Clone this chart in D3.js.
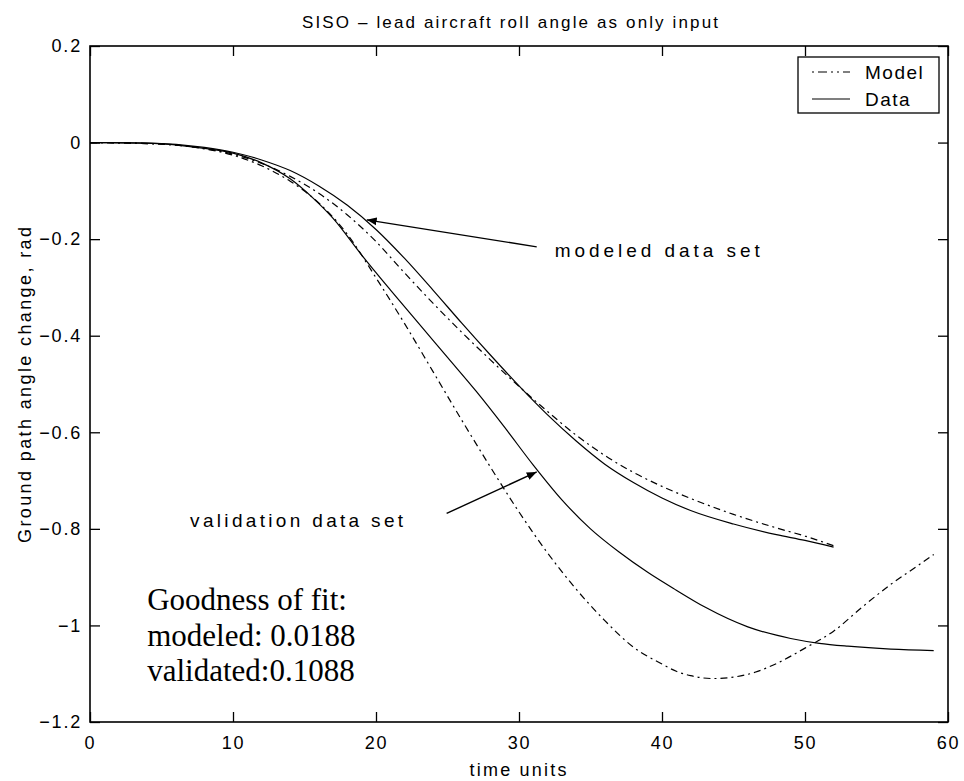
<!DOCTYPE html>
<html>
<head>
<meta charset="utf-8">
<script src="https://cdn.jsdelivr.net/npm/d3@7"></script>
<style>
  body { margin: 0; background: #fff; }
  svg { display: block; }
  .sans { font-family: "Liberation Sans", Arial, Helvetica, sans-serif; }
  .serif { font-family: "Liberation Serif", "Times New Roman", serif; }
</style>
</head>
<body>
<svg id="chart" width="964" height="781"></svg>
<script>
// modeled data set (upper pair)
const tModData  = [0, 4, 8, 10, 12, 14, 16, 18, 20, 22, 24, 26, 28, 30, 32, 34, 36, 38, 40, 42, 45, 48, 50, 52];
const vModData  = [0, -0.001, -0.01, -0.02, -0.036, -0.058, -0.09, -0.13, -0.18, -0.24, -0.306, -0.374, -0.44, -0.504, -0.564, -0.618, -0.666, -0.704, -0.736, -0.762, -0.79, -0.812, -0.824, -0.838];
const tModModel = [0, 4, 8, 10, 12, 14, 16, 18, 20, 22, 24, 26, 28, 30, 32, 34, 36, 38, 40, 42, 45, 48, 50, 52];
const vModModel = [0, -0.002, -0.012, -0.024, -0.043, -0.07, -0.105, -0.15, -0.205, -0.27, -0.333, -0.393, -0.45, -0.505, -0.557, -0.606, -0.648, -0.683, -0.712, -0.737, -0.77, -0.798, -0.815, -0.835];

// validation data set (lower pair)
const tValData  = [0, 4, 8, 10, 12, 14, 15.6, 17, 19, 21, 23, 25, 27, 29, 31, 33, 35, 37, 39, 41, 43, 46, 49, 51, 53, 56, 59];
const vValData  = [0, -0.001, -0.012, -0.022, -0.042, -0.075, -0.115, -0.157, -0.233, -0.305, -0.375, -0.445, -0.515, -0.59, -0.668, -0.74, -0.80, -0.848, -0.89, -0.927, -0.962, -1.003, -1.027, -1.037, -1.043, -1.049, -1.052];
const tValModel = [0, 4, 8, 10, 12, 14, 16, 18, 20, 22, 24, 26, 28, 30, 32, 34, 36, 38, 40, 41, 42, 43.5, 45, 46.5, 48, 50, 52, 54, 56, 58, 59];
const vValModel = [0, -0.002, -0.013, -0.026, -0.048, -0.08, -0.125, -0.19, -0.28, -0.375, -0.475, -0.575, -0.672, -0.765, -0.85, -0.925, -0.99, -1.045, -1.08, -1.095, -1.104, -1.11, -1.107, -1.097, -1.079, -1.047, -1.012, -0.962, -0.915, -0.874, -0.853];

const xTicks = [0, 10, 20, 30, 40, 50, 60];
const yTicks = [0.2, 0, -0.2, -0.4, -0.6, -0.8, -1, -1.2];

const titleText = "SISO \u2013 lead aircraft roll angle as only input";
const xLabel = "time units";
const yLabel = "Ground path angle change, rad";
const legendNames = ["Model", "Data"];
const fitLines = ["Goodness of fit:", "modeled: 0.0188", "validated:0.1088"];

// annotations in data units: [tail t, tail v, tip t, tip v]
const arrowModeled = [31.24, -0.216, 19.35, -0.16];
const arrowValid = [24.94, -0.768, 31.24, -0.682];

const svg = d3.select("#chart");
const plotL = 90, plotR = 948, plotT = 46, plotB = 722;

const x = d3.scaleLinear().domain([0, 60]).range([plotL, plotR]);
const y = d3.scaleLinear().domain([-1.2, 0.2]).range([plotB, plotT]);

const minus = s => s.replace("-", "\u2212");
const fmt = d => minus(d3.format("")(d));

// axes, ticks inside like matlab
function styleAxis(g) {
  g.select(".domain").remove();
  g.selectAll(".tick line").attr("stroke", "#000").attr("stroke-width", 1.3);
  g.selectAll(".tick text").attr("class", "sans").attr("font-size", 18)
    .attr("letter-spacing", 1.8).attr("fill", "#000");
}

svg.append("g").attr("transform", `translate(${plotL},0)`)
  .call(d3.axisLeft(y).tickValues(yTicks).tickSize(-10).tickPadding(8).tickFormat(fmt))
  .call(styleAxis);
svg.append("g").attr("transform", `translate(${plotR},0)`)
  .call(d3.axisRight(y).tickValues(yTicks).tickSize(-10).tickFormat(""))
  .call(styleAxis);
svg.append("g").attr("transform", `translate(0,${plotB})`)
  .call(d3.axisBottom(x).tickValues(xTicks).tickSize(-10).tickPadding(14).tickFormat(fmt))
  .call(styleAxis);
svg.append("g").attr("transform", `translate(0,${plotT})`)
  .call(d3.axisTop(x).tickValues(xTicks).tickSize(-10).tickFormat(""))
  .call(styleAxis);

svg.append("rect")
  .attr("x", plotL).attr("y", plotT)
  .attr("width", plotR - plotL).attr("height", plotB - plotT)
  .attr("fill", "none").attr("stroke", "#000").attr("stroke-width", 1.6);

// curves
const line = d3.line()
  .x(d => x(d[0])).y(d => y(d[1]))
  .curve(d3.curveMonotoneX);

const series = [
  { t: tModData, v: vModData, dash: null },
  { t: tModModel, v: vModModel, dash: "7,4,2,4" },
  { t: tValData, v: vValData, dash: null },
  { t: tValModel, v: vValModel, dash: "7,4,2,4" }
];

svg.append("g").selectAll("path")
  .data(series)
  .enter().append("path")
    .attr("d", s => line(s.t.map((t, i) => [t, s.v[i]])))
    .attr("fill", "none")
    .attr("stroke", "#000")
    .attr("stroke-width", 1.2)
    .attr("stroke-dasharray", s => s.dash);

// arrows
svg.append("defs").append("marker")
  .attr("id", "head")
  .attr("viewBox", "0 0 10 10")
  .attr("refX", 10).attr("refY", 5)
  .attr("markerWidth", 10).attr("markerHeight", 10)
  .attr("markerUnits", "userSpaceOnUse")
  .attr("orient", "auto")
  .append("path").attr("d", "M0,1 L10,5 L0,9 Z").attr("fill", "#000");

[arrowModeled, arrowValid].forEach(a => {
  svg.append("line")
    .attr("x1", x(a[0])).attr("y1", y(a[1]))
    .attr("x2", x(a[2])).attr("y2", y(a[3]))
    .attr("stroke", "#000").attr("stroke-width", 1.4)
    .attr("marker-end", "url(#head)");
});

svg.append("text").attr("class", "sans")
  .attr("x", x(32.5)).attr("y", y(-0.236))
  .attr("font-size", 19).attr("textLength", 205).attr("lengthAdjust", "spacing")
  .text("modeled data set");

svg.append("text").attr("class", "sans")
  .attr("x", x(7.0)).attr("y", y(-0.797))
  .attr("font-size", 19).attr("textLength", 213).attr("lengthAdjust", "spacing")
  .text("validation data set");

svg.append("g").selectAll("text")
  .data(fitLines)
  .enter().append("text")
    .attr("class", "serif")
    .attr("x", x(4.0))
    .attr("y", (d, i) => y(-0.968) + i * 35.7)
    .attr("font-size", 31)
    .text(d => d);

// titles
svg.append("text").attr("class", "sans")
  .attr("x", 510).attr("y", 28).attr("text-anchor", "middle")
  .attr("font-size", 17).attr("textLength", 416).attr("lengthAdjust", "spacing")
  .text(titleText);

svg.append("text").attr("class", "sans")
  .attr("x", 518).attr("y", 776).attr("text-anchor", "middle")
  .attr("font-size", 18).attr("textLength", 97).attr("lengthAdjust", "spacing")
  .text(xLabel);

svg.append("text").attr("class", "sans")
  .attr("transform", "translate(31,385) rotate(-90)")
  .attr("text-anchor", "middle")
  .attr("font-size", 18).attr("textLength", 316).attr("lengthAdjust", "spacing")
  .text(yLabel);

// legend
const lg = svg.append("g");
lg.append("rect")
  .attr("x", 798).attr("y", 57).attr("width", 141).attr("height", 56)
  .attr("fill", "#fff").attr("stroke", "#000").attr("stroke-width", 1.3);
legendNames.forEach((name, i) => {
  const yy = 72 + i * 27;
  lg.append("line")
    .attr("x1", 812).attr("x2", 850).attr("y1", yy).attr("y2", yy)
    .attr("stroke", "#000").attr("stroke-width", 1.2)
    .attr("stroke-dasharray", i === 0 ? "2,4,9,4,2,4" : null);
  lg.append("text").attr("class", "sans")
    .attr("x", 865).attr("y", yy + 7)
    .attr("font-size", 19).attr("letter-spacing", 1.5)
    .text(name);
});
</script>
</body>
</html>
